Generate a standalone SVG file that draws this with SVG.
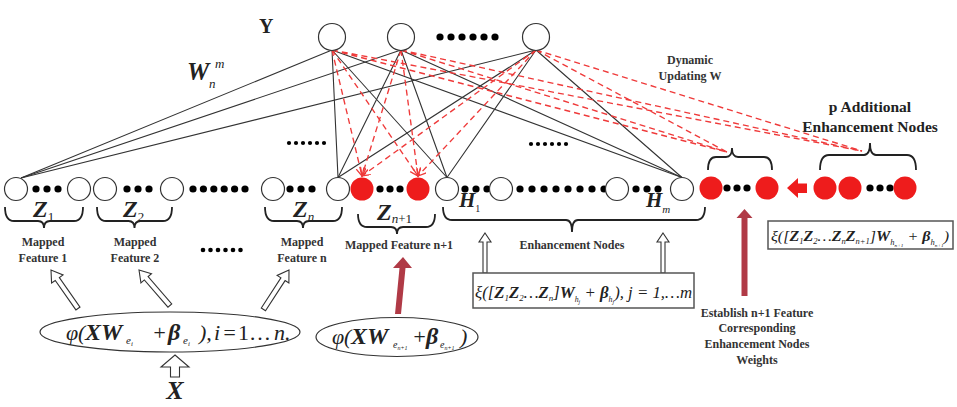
<svg xmlns="http://www.w3.org/2000/svg" width="957" height="407" viewBox="0 0 957 407">
<style>
.t{font-family:"Liberation Serif","Times New Roman",serif;fill:#222}
.b{font-weight:bold}
.i{font-style:italic}
.bi{font-weight:bold;font-style:italic}
.lbl{font-family:"Liberation Serif",serif;font-weight:bold;font-size:12px;fill:#333;text-anchor:middle}
.on{fill:#fff;stroke:#333;stroke-width:1.2}
.rn{fill:#ee1c1c}
.dot{fill:#000}
.br{fill:none;stroke:#222;stroke-width:1.8}
.wl{stroke:#333;stroke-width:1.1;fill:none}
.rl{stroke:#ef3a3a;stroke-width:1.35;stroke-dasharray:6 4;fill:none}
.ha{fill:#fff;stroke:#333;stroke-width:1.1}
.da{fill:#b03a46}
.box{fill:#fff;stroke:#555;stroke-width:1.5}
</style>
<defs>
<marker id="va" markerWidth="10" markerHeight="10" refX="8" refY="4" orient="auto" markerUnits="userSpaceOnUse">
<path d="M0,0 L8,4 L0,8" fill="none" stroke="#ef3a3a" stroke-width="1.3"/>
</marker>
<path id="hollow" d="M0,0 L-7,11 L-2.5,11 L-2.5,47 L2.5,47 L2.5,11 L7,11 Z"/>
</defs>

<g id="connectors">
<g class="wl">
<path d="M332,50 L21,178 M332,50 L338,177.5 M332,50 L447,177.5 M332,50 L682,177.5"/>
<path d="M401,50 L21,178 M401,50 L338,177.5 M401,50 L447,177.5 M401,50 L682,177.5"/>
<path d="M536,50 L21,178 M536,50 L338,177.5 M536,50 L447,177.5 M536,50 L682,177.5"/>
</g>
<g class="rl">
<path d="M332,50 L362,176" marker-end="url(#va)"/>
<path d="M332,50 L418,176" marker-end="url(#va)"/>
<path d="M401,50 L362,176" marker-end="url(#va)"/>
<path d="M401,50 L418,176" marker-end="url(#va)"/>
<path d="M536,50 L362,176" marker-end="url(#va)"/>
<path d="M536,50 L418,176" marker-end="url(#va)"/>
<path d="M332,50 L727,152 M332,50 L862,151"/>
<path d="M401,50 L727,152 M401,50 L862,151"/>
<path d="M536,50 L727,152 M536,50 L862,151"/>
</g>
<g id="hollow-arrows" class="ha">
<use href="#hollow" transform="translate(51,270) rotate(-35)"/>
<use href="#hollow" transform="translate(139,270) rotate(-41)"/>
<use href="#hollow" transform="translate(289,270) rotate(33)"/>
<path d="M175,355 L189,367 L179.5,367 L179.5,377 L170.5,377 L170.5,367 L161,367 Z"/>
<path d="M485,233 L491,242 L487,242 L487,273 L483,273 L483,242 L479,242 Z"/>
<path d="M663,233 L669,242 L665,242 L665,273 L661,273 L661,242 L657,242 Z"/>
</g>
<g id="red-arrows">
<path class="da" d="M403,257 L412,268 L405.5,268 L401,314 L395,314 L399.5,268 L393,268 Z"/>
<path class="da" d="M744.5,209 L752.5,218 L747.5,218 L747.5,296 L741.5,296 L741.5,218 L736.5,218 Z"/>
<path fill="#ee1c1c" d="M787,188 L798,178 L798,183.5 L807,183.5 L807,193 L798,193 L798,198 Z"/>
</g>
</g>

<g id="output-nodes">
<g id="y1"><circle class="on" cx="332" cy="37" r="13.5"/></g>
<g id="y2"><circle class="on" cx="401" cy="37" r="13.5"/></g>
<g id="y-dots" class="dot"><circle cx="440" cy="37" r="3.6"/><circle cx="451" cy="37" r="3.6"/><circle cx="462" cy="37" r="3.6"/><circle cx="473" cy="37" r="3.6"/><circle cx="484" cy="37" r="3.6"/><circle cx="495" cy="37" r="3.6"/></g>
<g id="y3"><circle class="on" cx="536" cy="37" r="13.5"/></g>
<text id="y-label" class="t b" x="259" y="33" font-size="20">Y</text>
<text id="w-label" class="t" x="187" y="80"><tspan class="bi" font-size="25">W</tspan><tspan class="i" x="215" y="68" font-size="13">m</tspan><tspan class="i" x="209" y="88" font-size="13">n</tspan></text>
</g>

<g id="feature-nodes">
<g id="z1"><circle class="on" cx="16" cy="189" r="11.5"/><g class="dot"><circle cx="36" cy="189" r="3.6"/><circle cx="47" cy="189" r="3.6"/><circle cx="58" cy="189" r="3.6"/></g><circle class="on" cx="79" cy="189" r="11.5"/>
<path class="br" d="M5,207 Q5,221 14,221 L38,221 Q44,221 44,228 Q44,221 50,221 L74,221 Q83,221 83,207"/>
<text class="t" x="33" y="217"><tspan class="bi" font-size="24">Z</tspan><tspan font-size="13" dy="4">1</tspan></text>
<text class="lbl" x="43" y="246">Mapped</text><text class="lbl" x="43" y="262">Feature 1</text></g>

<g id="z2"><circle class="on" cx="105" cy="189" r="11.5"/><g class="dot"><circle cx="127" cy="189" r="3.6"/><circle cx="138" cy="189" r="3.6"/><circle cx="149" cy="189" r="3.6"/></g><circle class="on" cx="172" cy="189" r="11.5"/>
<path class="br" d="M97,207 Q97,221 106,221 L128.5,221 Q134.5,221 134.5,228 Q134.5,221 140.5,221 L163,221 Q172,221 172,207"/>
<text class="t" x="123" y="217"><tspan class="bi" font-size="24">Z</tspan><tspan font-size="13" dy="4">2</tspan></text>
<text class="lbl" x="135" y="246">Mapped</text><text class="lbl" x="135" y="262">Feature 2</text></g>

<g id="z-mid-dots" class="dot"><circle cx="193" cy="189" r="3.6"/><circle cx="203.4" cy="189" r="3.6"/><circle cx="213.8" cy="189" r="3.6"/><circle cx="224.2" cy="189" r="3.6"/><circle cx="234.6" cy="189" r="3.6"/><circle cx="245" cy="189" r="3.6"/>
<circle cx="203" cy="250" r="2.3"/><circle cx="210.5" cy="250" r="2.3"/><circle cx="218" cy="250" r="2.3"/><circle cx="225.5" cy="250" r="2.3"/><circle cx="233" cy="250" r="2.3"/><circle cx="240.5" cy="250" r="2.3"/>
<circle cx="289" cy="143" r="2.1"/><circle cx="296" cy="143" r="2.1"/><circle cx="303" cy="143" r="2.1"/><circle cx="310" cy="143" r="2.1"/><circle cx="317" cy="143" r="2.1"/><circle cx="324" cy="143" r="2.1"/></g>

<g id="zn"><circle class="on" cx="273" cy="189" r="11.5"/><g class="dot"><circle cx="290" cy="189" r="3.6"/><circle cx="301" cy="189" r="3.6"/><circle cx="312" cy="189" r="3.6"/></g><circle class="on" cx="338" cy="189" r="11.5"/>
<path class="br" d="M265,207 Q265,221 274,221 L297,221 Q303,221 303,228 Q303,221 309,221 L333,221 Q342,221 342,207"/>
<text class="t" x="293" y="217"><tspan class="bi" font-size="24">Z</tspan><tspan class="i" font-size="13" dy="4">n</tspan></text>
<text class="lbl" x="302" y="246">Mapped</text><text class="lbl" x="302" y="262">Feature n</text></g>

<g id="zn1"><circle class="rn" cx="362" cy="189" r="11.5"/><g class="dot"><circle cx="380" cy="189" r="3.6"/><circle cx="390" cy="189" r="3.6"/><circle cx="400" cy="189" r="3.6"/></g><circle class="rn" cx="418" cy="189" r="11.5"/>
<path class="br" d="M358,214 Q358,227 367,227 L391,227 Q397,227 397,234 Q397,227 403,227 L426,227 Q435,227 435,214"/>
<text class="t" x="377" y="220"><tspan class="bi" font-size="24">Z</tspan><tspan class="i" font-size="13" dy="3">n</tspan><tspan font-size="13">+1</tspan></text>
<text class="lbl" x="399" y="249">Mapped Feature n+1</text></g>
</g>

<g id="feature-mapping">
<g id="map-ellipse"><ellipse class="on" cx="170" cy="332" rx="130" ry="20"/>
<text class="t i" y="340" font-size="22"><tspan x="66">φ</tspan><tspan x="78">(</tspan><tspan class="bi" x="85" font-size="24">XW</tspan><tspan x="126" font-size="11" dy="4">e</tspan><tspan font-size="7" dy="2">i</tspan><tspan x="152" dy="-6">+</tspan><tspan class="bi" x="168" font-size="24">β</tspan><tspan x="183" font-size="11" dy="4">e</tspan><tspan font-size="7" dy="2">i</tspan><tspan x="199" dy="-6">),</tspan><tspan x="214">i</tspan><tspan x="222">=</tspan><tspan x="238" font-style="normal">1…</tspan><tspan x="274">n.</tspan></text></g>
<g id="map-ellipse-n1"><ellipse class="on" cx="397" cy="337" rx="81" ry="19.5"/>
<text class="t i" y="344" font-size="22"><tspan x="332">φ</tspan><tspan x="344">(</tspan><tspan class="bi" x="351" font-size="24">XW</tspan><tspan x="393" font-size="10" dy="4">e</tspan><tspan font-size="6" dy="2">n+1</tspan><tspan x="412" dy="-6">+</tspan><tspan class="bi" x="426" font-size="24">β</tspan><tspan x="440" font-size="10" dy="4">e</tspan><tspan font-size="6" dy="2">n+1</tspan><tspan x="460" dy="-6">)</tspan></text></g>
<g id="x-input"><text class="t bi" x="175" y="399" font-size="26" text-anchor="middle">X</text></g>
</g>

<g id="enhancement-nodes">
<g id="h1"><circle class="on" cx="447" cy="189" r="11.5"/><g class="dot"><circle cx="465" cy="189" r="3.6"/><circle cx="476" cy="189" r="3.6"/><circle cx="487" cy="189" r="3.6"/></g>
<text class="t" x="459" y="207"><tspan class="bi" font-size="21">H</tspan><tspan font-size="10" dy="5">1</tspan></text></g>
<g id="h2"><circle class="on" cx="501" cy="189" r="11.5"/></g>
<g id="h-dots" class="dot"><circle cx="520" cy="189" r="3.6"/><circle cx="532" cy="189" r="3.6"/><circle cx="544" cy="189" r="3.6"/><circle cx="556" cy="189" r="3.6"/><circle cx="568" cy="189" r="3.6"/><circle cx="580" cy="189" r="3.6"/><circle cx="592" cy="189" r="3.6"/><circle cx="604" cy="189" r="3.6"/>
<circle cx="531" cy="144" r="2.1"/><circle cx="538" cy="144" r="2.1"/><circle cx="545" cy="144" r="2.1"/><circle cx="552" cy="144" r="2.1"/><circle cx="559" cy="144" r="2.1"/><circle cx="566" cy="144" r="2.1"/></g>
<g id="h3"><circle class="on" cx="617" cy="189" r="11.5"/><g class="dot"><circle cx="636" cy="189" r="3.6"/><circle cx="647" cy="189" r="3.6"/><circle cx="658" cy="189" r="3.6"/></g></g>
<g id="hm"><circle class="on" cx="682" cy="189" r="11.5"/>
<text class="t" x="646" y="207"><tspan class="bi" font-size="21">H</tspan><tspan class="i" font-size="11" dy="6">m</tspan></text></g>
<path class="br" d="M443,207 Q443,220 452,220 L566,220 Q572,220 572,232 Q572,220 578,220 L696,220 Q705,220 705,207"/>
<text class="lbl" x="572" y="249">Enhancement Nodes</text>
<g id="enh-formula"><rect class="box" x="473" y="273" width="221" height="35"/>
<text class="t i" x="475" y="298" font-size="17" textLength="217" lengthAdjust="spacingAndGlyphs">ξ([<tspan class="bi">Z</tspan><tspan font-size="9" dy="3">1</tspan><tspan class="bi" dy="-3">Z</tspan><tspan font-size="9" dy="3">2</tspan><tspan dy="-3">…</tspan><tspan class="bi">Z</tspan><tspan font-size="9" dy="3">n</tspan><tspan dy="-3">]</tspan><tspan class="bi">W</tspan><tspan font-size="8" dy="4">h</tspan><tspan font-size="6" dy="2">j</tspan><tspan dy="-6"> + </tspan><tspan class="bi">β</tspan><tspan font-size="8" dy="4">h</tspan><tspan font-size="6" dy="2">j</tspan><tspan dy="-6">), j = 1,…m</tspan></text></g>
</g>

<g id="new-enhancement">
<g id="e-new"><circle class="rn" cx="711" cy="188" r="11.5"/><g class="dot"><circle cx="727" cy="188" r="3.6"/><circle cx="737" cy="188" r="3.6"/><circle cx="747" cy="188" r="3.6"/></g><circle class="rn" cx="767" cy="188" r="11.5"/>
<path class="br" d="M708,170 Q708,157 716,157 L726,157 Q732,157 732,148 Q732,157 738,157 L764,157 Q772,157 772,170"/></g>
<g id="e-additional"><circle class="rn" cx="825" cy="188" r="11.5"/><circle class="rn" cx="850" cy="188" r="11.5"/><g class="dot"><circle cx="870" cy="188" r="3.6"/><circle cx="880" cy="188" r="3.6"/><circle cx="890" cy="188" r="3.6"/></g><circle class="rn" cx="905" cy="188" r="11.5"/>
<path class="br" d="M820,170 Q820,155 829,155 L864,155 Q870,155 870,143 Q870,155 876,155 L907,155 Q916,155 916,170"/>
<text class="t b" x="870" y="112" font-size="15.5" text-anchor="middle">p Additional</text>
<text class="t b" x="870" y="132" font-size="15.5" text-anchor="middle">Enhancement Nodes</text></g>
<text class="lbl" x="690" y="64">Dynamic</text>
<text class="lbl" x="690" y="80">Updating W</text>
<g id="add-formula"><rect class="box" x="768" y="221" width="185" height="28"/>
<text class="t i" x="771" y="241" font-size="15" textLength="178" lengthAdjust="spacingAndGlyphs">ξ([<tspan class="bi">Z</tspan><tspan font-size="8" dy="3">1</tspan><tspan class="bi" dy="-3">Z</tspan><tspan font-size="8" dy="3">2</tspan><tspan dy="-3">…</tspan><tspan class="bi">Z</tspan><tspan font-size="8" dy="3">n</tspan><tspan class="bi" dy="-3">Z</tspan><tspan font-size="8" dy="3">n+1</tspan><tspan dy="-3">]</tspan><tspan class="bi">W</tspan><tspan font-size="8" dy="4">h</tspan><tspan font-size="5" dy="2">n+1</tspan><tspan dy="-6"> + </tspan><tspan class="bi">β</tspan><tspan font-size="8" dy="4">h</tspan><tspan font-size="5" dy="2">n+1</tspan><tspan dy="-6">)</tspan></text></g>
<g id="establish-label">
<text class="lbl" x="757" y="317" font-size="11.5">Establish n+1 Feature</text>
<text class="lbl" x="757" y="332" font-size="11.5">Corresponding</text>
<text class="lbl" x="757" y="348" font-size="11.5">Enhancement Nodes</text>
<text class="lbl" x="757" y="364" font-size="11.5">Weights</text></g>
</g>
</svg>
